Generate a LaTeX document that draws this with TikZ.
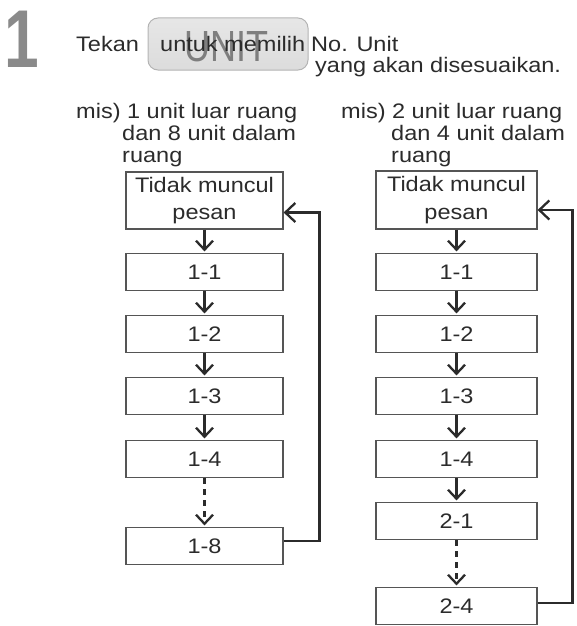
\documentclass[tikz,border=0pt]{standalone}
\usepackage{fontspec}
\setmainfont[FakeStretch=1.12]{Liberation Sans}
\newfontfamily\bigfont[FakeStretch=0.76]{Liberation Sans Bold}
\usetikzlibrary{arrows.meta}
\definecolor{txt}{HTML}{2B2B2B}
\definecolor{boxline}{HTML}{555555}
\definecolor{numgray}{HTML}{8A8A8A}
\definecolor{btnfill}{HTML}{DCDCDC}
\definecolor{btnline}{HTML}{B4B4B4}
\definecolor{unitgray}{HTML}{6E6E6E}
\begin{document}
\begin{tikzpicture}[x=1pt,y=-1pt,
  every node/.style={text=txt, font=\fontsize{21}{22}\selectfont},
  lbl/.style={anchor=base west, inner sep=0pt},
  stepbox/.style={draw=boxline, line width=1.2pt, inner sep=0pt, minimum height=37pt, align=center},
  lbox/.style={stepbox, minimum width=157pt},
  rbox/.style={stepbox, minimum width=161pt},
  tbox/.style={font=\fontsize{21}{27.5}\selectfont},
  flow/.style={draw=txt, line width=2.3pt, -{Straight Barb[length=9pt,width=17pt,line width=2.3pt]}, shorten >=1.5pt},
  dflow/.style={flow, dash pattern=on 6pt off 5pt},
  loopline/.style={draw=txt, line width=2.3pt, -{Straight Barb[length=10pt,width=19pt,line width=2.3pt]}}
]
\useasboundingbox (0,0) rectangle (576,626);

% header
\node[lbl, text=numgray, font=\bigfont\fontsize{82}{82}\selectfont] (num) at (4.6,67) {1};
\node[lbl] (tekan) at (76,52) {Tekan};
\node[draw=btnline, top color=btnfill!70!white, bottom color=btnfill, rounded corners=10pt, line width=1pt, minimum width=160pt, minimum height=52pt, inner sep=0pt] (btn) at (228,44) {};
\node[inner sep=0pt, text=unitgray, opacity=0.85] (unit) at (226.5,47) {\resizebox{84pt}{30pt}{UNIT}};
\node[lbl] (untuk) at (160,52) {untuk memilih};
\node[lbl] (no) at (311,52) {No. Unit};
\node[lbl] (yang) at (315,73) {yang akan disesuaikan.};

\node[lbl] (m1a) at (76,118) {mis) 1 unit luar ruang};
\node[lbl] (m1b) at (122,140) {dan 8 unit dalam};
\node[lbl] (m1c) at (122,162) {ruang};
\node[lbl] (m2a) at (341,118) {mis) 2 unit luar ruang};
\node[lbl] (m2b) at (391,140) {dan 4 unit dalam};
\node[lbl] (m2c) at (391,162) {ruang};

% left column
\node[lbox, minimum height=57pt, tbox] (LT) at (204.5,200.5) {Tidak muncul\\pesan};
\node[lbox] (L11) at (204.5,272) {1-1};
\node[lbox] (L12) at (204.5,334) {1-2};
\node[lbox] (L13) at (204.5,396) {1-3};
\node[lbox] (L14) at (204.5,459) {1-4};
\node[lbox] (L18) at (204.5,546) {1-8};

\draw[flow] (LT) -- (L11);
\draw[flow] (L11) -- (L12);
\draw[flow] (L12) -- (L13);
\draw[flow] (L13) -- (L14);
\draw[dflow] (L14) -- (L18);
\draw[loopline] ([yshift=5pt]L18.east) -- ++(36,0) |- ([yshift=-12pt]LT.east);

% right column
\node[rbox, minimum height=58pt, tbox] (RT) at (456.5,200) {Tidak muncul\\pesan};
\node[rbox] (R11) at (456.5,272) {1-1};
\node[rbox] (R12) at (456.5,334) {1-2};
\node[rbox] (R13) at (456.5,396) {1-3};
\node[rbox] (R14) at (456.5,459) {1-4};
\node[rbox] (R21) at (456.5,521) {2-1};
\node[rbox] (R24) at (456.5,606) {2-4};

\draw[flow] (RT) -- (R11);
\draw[flow] (R11) -- (R12);
\draw[flow] (R12) -- (R13);
\draw[flow] (R13) -- (R14);
\draw[flow] (R14) -- (R21);
\draw[dflow] (R21) -- (R24);
\draw[loopline] ([yshift=3pt]R24.east) -- ++(35,0) |- ([yshift=-10pt]RT.east);
\end{tikzpicture}
\end{document}
